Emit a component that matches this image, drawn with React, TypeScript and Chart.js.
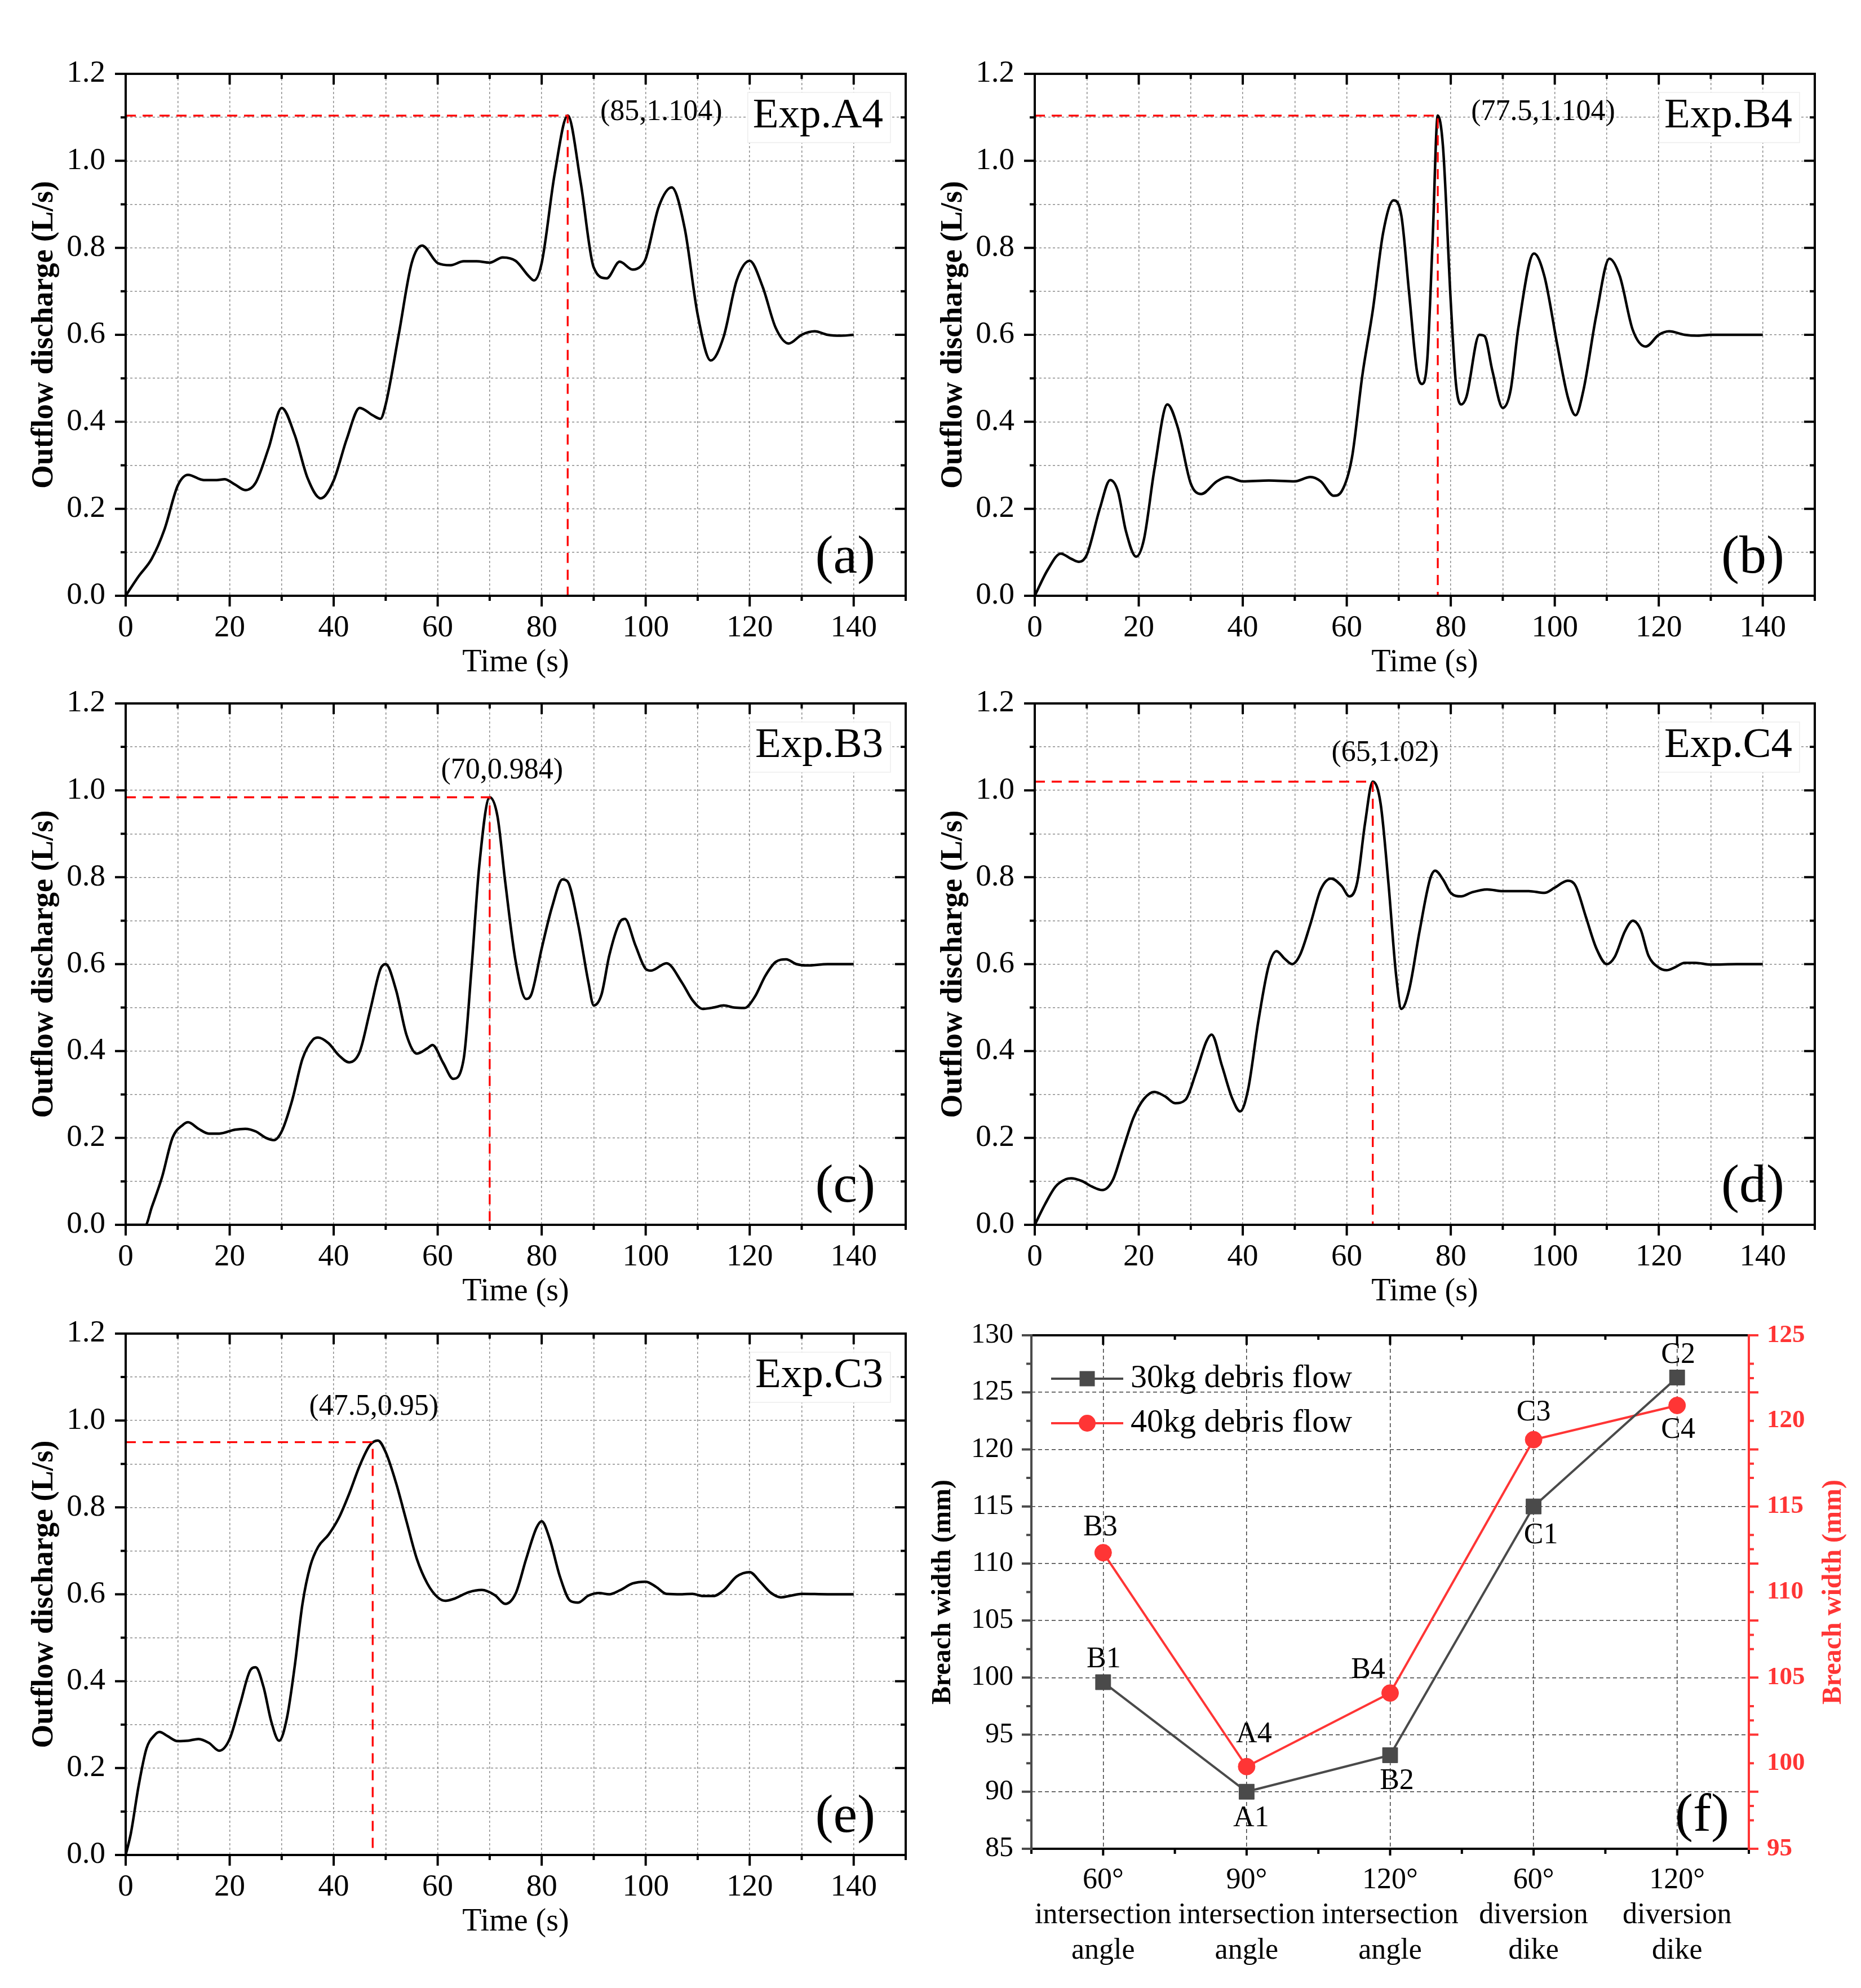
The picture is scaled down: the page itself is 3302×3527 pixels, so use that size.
import React, { useEffect, useRef } from 'react';
import { Chart, registerables } from 'chart.js';
Chart.register(...registerables);

const SERIF = '"Liberation Serif", "Times New Roman", Times, serif';

// ---------------- data ----------------
// (a) Exp.A4
const timeA4 = [0, 2.5, 5, 7.5, 10, 12, 15, 17.5, 19, 21, 23, 25, 27.5, 30, 32.5, 35, 37.5, 40, 42.5, 45, 47.5, 49, 50, 52.5, 55, 57, 60, 62.5, 65, 67.5, 70, 72.5, 75, 77.5, 78.5, 80, 82.5, 85, 87.5, 90, 92.5, 95, 97.5, 99, 100, 102.5, 105, 107.5, 110, 112.5, 115, 117.5, 120, 122.5, 125, 127.5, 130, 132.5, 135, 137.5, 140];
const flowA4 = [0, 0.045, 0.085, 0.154, 0.253, 0.278, 0.266, 0.266, 0.268, 0.256, 0.243, 0.26, 0.34, 0.432, 0.37, 0.27, 0.224, 0.265, 0.36, 0.432, 0.415, 0.407, 0.44, 0.6, 0.765, 0.805, 0.765, 0.76, 0.769, 0.769, 0.766, 0.778, 0.77, 0.735, 0.725, 0.765, 0.97, 1.104, 0.95, 0.755, 0.73, 0.768, 0.75, 0.757, 0.775, 0.894, 0.939, 0.845, 0.646, 0.541, 0.596, 0.725, 0.77, 0.71, 0.616, 0.58, 0.6, 0.608, 0.6, 0.598, 0.6];
// (b) Exp.B4
const timeB4 = [0, 2.5, 5, 7, 8.5, 10, 12.5, 14.5, 16, 17.5, 19.5, 21, 23, 25.5, 27.5, 30, 32, 35, 37, 40, 45, 50, 53, 55, 57.5, 59, 61, 63, 65, 67, 69, 70.5, 72, 73.5, 74.5, 75.5, 76.5, 77.5, 78.5, 80, 81, 82, 83, 85.5, 86.5, 88, 90, 91.5, 93, 96, 98, 100.5, 102.5, 104, 105.5, 108, 110.5, 112.5, 115, 117.5, 120, 122, 125, 127.5, 130, 140];
const flowB4 = [0, 0.06, 0.097, 0.085, 0.078, 0.094, 0.2, 0.266, 0.24, 0.15, 0.09, 0.13, 0.29, 0.44, 0.387, 0.258, 0.234, 0.263, 0.273, 0.263, 0.265, 0.263, 0.273, 0.263, 0.23, 0.24, 0.318, 0.507, 0.656, 0.835, 0.909, 0.874, 0.695, 0.516, 0.487, 0.546, 0.815, 1.104, 1.033, 0.675, 0.487, 0.44, 0.457, 0.6, 0.597, 0.517, 0.432, 0.472, 0.616, 0.787, 0.735, 0.576, 0.457, 0.415, 0.472, 0.646, 0.775, 0.735, 0.611, 0.573, 0.6, 0.608, 0.6, 0.598, 0.6, 0.6];
// (c) Exp.B3
const timeB3 = [0, 3.8, 5, 7, 9, 11, 12, 14, 16, 18, 21, 23, 25, 27, 28.5, 30, 32, 34, 36, 37, 39, 41, 43, 45, 47, 49, 50, 52, 54, 56, 58, 59, 61, 63, 65, 66.5, 68, 70, 71.5, 73, 75, 77, 78, 80, 82, 84, 85, 87, 89, 90, 91.5, 93, 95, 96, 98, 100, 101, 104, 107, 109, 111, 113, 115, 117, 119, 121, 123, 125, 127, 129, 131, 135, 140];
const flowB3 = [0, 0, 0.04, 0.11, 0.2, 0.23, 0.236, 0.221, 0.21, 0.21, 0.219, 0.221, 0.215, 0.2, 0.195, 0.215, 0.286, 0.382, 0.426, 0.431, 0.418, 0.39, 0.374, 0.398, 0.493, 0.589, 0.6, 0.54, 0.437, 0.394, 0.406, 0.414, 0.374, 0.336, 0.382, 0.589, 0.827, 0.984, 0.94, 0.788, 0.606, 0.52, 0.53, 0.636, 0.732, 0.795, 0.79, 0.692, 0.557, 0.505, 0.53, 0.62, 0.696, 0.704, 0.644, 0.589, 0.585, 0.602, 0.557, 0.517, 0.497, 0.5, 0.505, 0.5, 0.499, 0.525, 0.573, 0.605, 0.611, 0.6, 0.597, 0.6, 0.6];
// (d) Exp.C4
const timeC4 = [0, 2, 4, 6, 7, 9, 11, 13, 15, 17, 19, 21, 23, 25, 27, 29, 31, 33, 34, 36, 38, 39.5, 41, 43, 45, 46.5, 48, 49.5, 51, 53, 55, 57, 59, 60.5, 62, 63.5, 65, 66.5, 68, 69.5, 70.5, 72, 74, 76, 77, 78.5, 80, 82, 84, 87, 90, 95, 98, 100, 102.5, 104, 106, 108, 110, 111.5, 113.5, 115, 116.5, 118, 120, 121.5, 123, 125, 127, 130, 135, 140];
const flowC4 = [0, 0.048, 0.088, 0.105, 0.107, 0.101, 0.088, 0.08, 0.103, 0.175, 0.247, 0.29, 0.306, 0.296, 0.28, 0.288, 0.35, 0.422, 0.438, 0.366, 0.29, 0.261, 0.31, 0.469, 0.597, 0.63, 0.613, 0.6, 0.621, 0.692, 0.772, 0.797, 0.78, 0.756, 0.788, 0.923, 1.02, 0.97, 0.788, 0.573, 0.497, 0.541, 0.676, 0.795, 0.815, 0.795, 0.764, 0.756, 0.765, 0.772, 0.768, 0.768, 0.764, 0.776, 0.792, 0.78, 0.708, 0.636, 0.6, 0.616, 0.676, 0.7, 0.68, 0.62, 0.592, 0.586, 0.592, 0.603, 0.603, 0.599, 0.6, 0.6];
// (e) Exp.C3
const timeC3 = [0, 1, 2.5, 4, 5.5, 6.5, 8, 10, 12, 14, 16, 18, 20, 22, 24, 25, 26.5, 28, 29.5, 31, 32.5, 34, 35.5, 37, 39, 41, 43, 45, 47, 48.5, 50, 52, 54, 56, 58, 60, 61.5, 63, 66, 68.5, 71, 73, 75, 77, 79, 80, 81.5, 83.5, 85.5, 87, 89, 91, 93, 95, 97.5, 100, 102, 104, 107, 109, 111, 113, 115, 117.5, 120, 122, 124, 126, 128, 130, 135, 140];
const flowC3 = [0, 0.05, 0.16, 0.245, 0.275, 0.283, 0.274, 0.262, 0.263, 0.267, 0.258, 0.24, 0.267, 0.347, 0.426, 0.432, 0.387, 0.307, 0.263, 0.315, 0.434, 0.578, 0.665, 0.709, 0.737, 0.776, 0.832, 0.896, 0.944, 0.954, 0.927, 0.856, 0.768, 0.681, 0.625, 0.593, 0.585, 0.589, 0.605, 0.61, 0.598, 0.578, 0.602, 0.681, 0.753, 0.768, 0.729, 0.641, 0.585, 0.581, 0.597, 0.603, 0.6, 0.609, 0.625, 0.629, 0.617, 0.601, 0.6, 0.601, 0.596, 0.596, 0.609, 0.641, 0.651, 0.629, 0.604, 0.593, 0.597, 0.601, 0.6, 0.6];

// peak markers [time, discharge]
const peakA4 = [85, 1.104];
const peakB4 = [77.5, 1.104];
const peakB3 = [70, 0.984];
const peakC4 = [65, 1.02];
const peakC3 = [47.5, 0.95];
const peakTexts = ['(85,1.104)', '(77.5,1.104)', '(70,0.984)', '(65,1.02)', '(47.5,0.95)'];
const expNames = ['Exp.A4', 'Exp.B4', 'Exp.B3', 'Exp.C4', 'Exp.C3'];
const panelLetters = ['(a)', '(b)', '(c)', '(d)', '(e)'];
const timeAxisTitle = 'Time (s)';
const flowAxisTitle = 'Outflow discharge (L/s)';

// (f) breach widths
const breachCategories = [
  ['60°', 'intersection', 'angle'],
  ['90°', 'intersection', 'angle'],
  ['120°', 'intersection', 'angle'],
  ['60°', 'diversion', 'dike'],
  ['120°', 'diversion', 'dike'],
];
const breach30kg = [99.6, 90.0, 93.2, 115.0, 126.3];
const breach40kg = [112.3, 99.8, 104.1, 118.9, 120.9];
const labels30kg = ['B1', 'A1', 'B2', 'C1', 'C2'];
const labels40kg = ['B3', 'A4', 'B4', 'C3', 'C4'];
const seriesNames = ['30kg debris flow', '40kg debris flow'];
const breachTitle = 'Breach width (mm)';

const FLOW_SERIES = [
  { time: timeA4, flow: flowA4, peak: peakA4 },
  { time: timeB4, flow: flowB4, peak: peakB4 },
  { time: timeB3, flow: flowB3, peak: peakB3 },
  { time: timeC4, flow: flowC4, peak: peakC4 },
  { time: timeC3, flow: flowC3, peak: peakC3 },
];

// ---------------- layout / style ----------------
const LEFT_W = 223;
const PAD_TOP = 72;
const PAD_RIGHT = 40;
const BOTTOM_H = 160;
const FLOW_BOX = [
  { L: 223, T: 131, R: 1607, B: 1057, pdx: 166, pdy: -6 },
  { L: 1836, T: 131, R: 3220, B: 1057, pdx: 187, pdy: -6 },
  { L: 223, T: 1248, R: 1607, B: 2173, pdx: 22, pdy: -47 },
  { L: 1836, T: 1248, R: 3220, B: 2173, pdx: 22, pdy: -50 },
  { L: 223, T: 2366, R: 1607, B: 3291, pdx: 2, pdy: -62 },
];
const F_BOX = { L: 1830, T: 2369, R: 3103, B: 3280 };
const F_LEFT_W = 200;
const F_RIGHT_W = 200;
const F_BOTTOM_H = 215;
const LABEL_OFF_30 = [[1, -40], [8, 48], [12, 46], [13, 52], [2, -40]];
const LABEL_OFF_40 = [[-5, -44], [13, -57], [-39, -40], [0, -48], [2, 44]];
const RED = '#ff3535';
const GRAY = '#4a4a4a';

function flowDecor(i: number) {
  const box = FLOW_BOX[i];
  return {
    id: 'flowDecor' + i,
    beforeDatasetsDraw(chart: any) {
      const { ctx, chartArea: a } = chart;
      ctx.save();
      ctx.font = `75px ${SERIF}`;
      const text = expNames[i];
      const tw = ctx.measureText(text).width;
      const right = a.right - 40;
      const base = a.top + 95;
      const bx0 = right - tw - 9;
      const bx1 = a.right - 27;
      const by0 = a.top + 33;
      const by1 = a.top + 122;
      ctx.fillStyle = '#fff';
      ctx.fillRect(bx0, by0, bx1 - bx0, by1 - by0);
      ctx.strokeStyle = '#ededed';
      ctx.lineWidth = 1.5;
      ctx.strokeRect(bx0, by0, bx1 - bx0, by1 - by0);
      ctx.fillStyle = '#000';
      ctx.textAlign = 'right';
      ctx.textBaseline = 'alphabetic';
      ctx.fillText(text, right, base);
      ctx.restore();
    },
    afterDraw(chart: any) {
      const { ctx, chartArea: a, scales } = chart;
      const x = scales.x;
      const y = scales.y;
      ctx.save();
      ctx.strokeStyle = '#000';
      ctx.lineWidth = 4;
      ctx.lineCap = 'butt';
      ctx.beginPath();
      for (let v = 0; v <= 150; v += 10) {
        const px = x.getPixelForValue(v);
        const len = v % 20 === 0 ? 19 : 9;
        ctx.moveTo(px, a.bottom);
        ctx.lineTo(px, a.bottom + len);
        ctx.moveTo(px, a.top);
        ctx.lineTo(px, a.top + len);
      }
      for (let k = 0; k <= 12; k++) {
        const py = y.getPixelForValue(k / 10);
        const len = k % 2 === 0 ? 19 : 9;
        ctx.moveTo(a.left, py);
        ctx.lineTo(a.left - len, py);
        ctx.moveTo(a.right, py);
        ctx.lineTo(a.right - len, py);
      }
      ctx.stroke();
      ctx.lineJoin = 'miter';
      ctx.strokeRect(a.left, a.top, a.right - a.left, a.bottom - a.top);

      const pk = FLOW_SERIES[i].peak;
      ctx.fillStyle = '#000';
      ctx.font = `52px ${SERIF}`;
      ctx.textAlign = 'center';
      ctx.textBaseline = 'middle';
      ctx.fillText(peakTexts[i], x.getPixelForValue(pk[0]) + box.pdx, y.getPixelForValue(pk[1]) + box.pdy);

      ctx.font = `96px ${SERIF}`;
      ctx.textAlign = 'right';
      ctx.fillText(panelLetters[i], a.right - 54, a.bottom - 66);
      ctx.restore();
    },
  };
}

function FlowPanel({ i }: { i: number }) {
  const ref = useRef<HTMLCanvasElement>(null);
  const box = FLOW_BOX[i];
  const w = LEFT_W + (box.R - box.L) + PAD_RIGHT;
  const h = PAD_TOP + (box.B - box.T) + BOTTOM_H;
  useEffect(() => {
    const s = FLOW_SERIES[i];
    const chart = new Chart(ref.current as HTMLCanvasElement, {
      type: 'line',
      data: {
        datasets: [
          {
            data: [
              { x: 0, y: s.peak[1] },
              { x: s.peak[0], y: s.peak[1] },
              { x: s.peak[0], y: 0 },
            ],
            borderColor: '#ff0000',
            borderWidth: 3.3,
            borderDash: [18, 12],
            pointRadius: 0,
            tension: 0,
            fill: false,
          },
          {
            data: s.time.map((t, k) => ({ x: t, y: s.flow[k] })),
            borderColor: '#000',
            borderWidth: 4.5,
            pointRadius: 0,
            cubicInterpolationMode: 'monotone',
            fill: false,
          },
        ],
      },
      options: {
        animation: false,
        responsive: false,
        devicePixelRatio: 1,
        events: [],
        layout: { padding: { left: 0, top: PAD_TOP, right: PAD_RIGHT, bottom: 0 } },
        plugins: { legend: { display: false }, tooltip: { enabled: false } },
        scales: {
          x: {
            type: 'linear',
            min: 0,
            max: 150,
            afterFit: (sc: any) => { sc.height = BOTTOM_H; },
            ticks: {
              stepSize: 10,
              autoSkip: false,
              maxRotation: 0,
              padding: 25,
              color: '#000',
              font: { family: SERIF, size: 55 },
              callback: (v: any) => (Math.round(Number(v)) % 20 === 0 ? String(Math.round(Number(v))) : ''),
            },
            grid: { color: '#8c8c8c', lineWidth: 1.5, drawTicks: false },
            border: { display: false, dash: [4, 4] },
            title: {
              display: true,
              text: timeAxisTitle,
              color: '#000',
              font: { family: SERIF, size: 56 },
              padding: { top: 0, bottom: 7 },
            },
          },
          y: {
            type: 'linear',
            min: 0,
            max: 1.2,
            afterFit: (sc: any) => { sc.width = LEFT_W; },
            ticks: {
              stepSize: 0.1,
              autoSkip: false,
              padding: 36,
              color: '#000',
              font: { family: SERIF, size: 55 },
              callback: (v: any) => {
                const r = Math.round(Number(v) * 10);
                return r % 2 === 0 ? (r / 10).toFixed(1) : '';
              },
            },
            grid: { color: '#8c8c8c', lineWidth: 1.5, drawTicks: false },
            border: { display: false, dash: [4, 4] },
            title: {
              display: true,
              text: flowAxisTitle,
              color: '#000',
              font: { family: SERIF, size: 54, weight: 'bold' },
              padding: { top: 47, bottom: 0 },
            },
          },
        },
      },
      plugins: [flowDecor(i)],
    } as any);
    return () => chart.destroy();
  }, [i]);
  return (
    <canvas
      ref={ref}
      width={w}
      height={h}
      style={{ position: 'absolute', left: box.L - LEFT_W, top: box.T - PAD_TOP, width: w, height: h }}
    />
  );
}

const breachDecor = {
  id: 'breachDecor',
  afterDraw(chart: any) {
    const { ctx, chartArea: a, scales } = chart;
    const x = scales.x;
    const y = scales.y;
    const y1 = scales.y1;
    ctx.save();
    ctx.lineWidth = 4;
    ctx.lineCap = 'butt';
    // left ticks (outward)
    ctx.strokeStyle = GRAY;
    ctx.beginPath();
    for (let v = 85; v <= 130; v += 2.5) {
      const py = y.getPixelForValue(v);
      const len = v % 5 === 0 ? 17 : 9;
      ctx.moveTo(a.left, py);
      ctx.lineTo(a.left - len, py);
    }
    ctx.stroke();
    // right ticks (outward, red)
    ctx.strokeStyle = RED;
    ctx.beginPath();
    for (let v = 85; v <= 130; v += 2.5) {
      const py = y.getPixelForValue(v);
      const len = v % 5 === 0 ? 17 : 9;
      ctx.moveTo(a.right, py);
      ctx.lineTo(a.right + len, py);
    }
    for (let v = 95; v <= 125; v += 2.5) {
      const py = y1.getPixelForValue(v);
      ctx.moveTo(a.right, py);
      ctx.lineTo(a.right + 9, py);
    }
    ctx.stroke();
    // top / bottom ticks
    ctx.strokeStyle = '#000';
    ctx.beginPath();
    const n = breachCategories.length;
    const xs: number[] = [];
    for (let k = 0; k < n; k++) xs.push(x.getPixelForValue(k));
    const mids: number[] = [a.left, a.right];
    for (let k = 0; k < n - 1; k++) mids.push((xs[k] + xs[k + 1]) / 2);
    xs.forEach((px) => {
      ctx.moveTo(px, a.top); ctx.lineTo(px, a.top + 17);
      ctx.moveTo(px, a.bottom); ctx.lineTo(px, a.bottom + 12);
    });
    mids.forEach((px) => {
      ctx.moveTo(px, a.top); ctx.lineTo(px, a.top + 8);
      ctx.moveTo(px, a.bottom); ctx.lineTo(px, a.bottom + 9);
    });
    ctx.stroke();
    // frame
    ctx.beginPath();
    ctx.moveTo(a.left - 2, a.top); ctx.lineTo(a.right + 2, a.top);
    ctx.moveTo(a.left - 2, a.bottom); ctx.lineTo(a.right + 2, a.bottom);
    ctx.stroke();
    ctx.strokeStyle = GRAY;
    ctx.beginPath();
    ctx.moveTo(a.left, a.top - 2); ctx.lineTo(a.left, a.bottom + 2);
    ctx.stroke();
    ctx.strokeStyle = RED;
    ctx.beginPath();
    ctx.moveTo(a.right, a.top - 2); ctx.lineTo(a.right, a.bottom + 2);
    ctx.stroke();

    // legend
    const rows = [a.top + 77, a.top + 156];
    const colors = [GRAY, RED];
    rows.forEach((ry, k) => {
      ctx.strokeStyle = colors[k];
      ctx.fillStyle = colors[k];
      ctx.lineWidth = 4;
      ctx.beginPath();
      ctx.moveTo(a.left + 35, ry);
      ctx.lineTo(a.left + 163, ry);
      ctx.stroke();
      if (k === 0) {
        ctx.fillRect(a.left + 99 - 13.5, ry - 13.5, 27, 27);
      } else {
        ctx.beginPath();
        ctx.arc(a.left + 99, ry, 15, 0, Math.PI * 2);
        ctx.fill();
      }
      ctx.fillStyle = '#000';
      ctx.font = `58px ${SERIF}`;
      ctx.textAlign = 'left';
      ctx.textBaseline = 'middle';
      ctx.fillText(seriesNames[k], a.left + 176, ry);
    });

    // point labels
    ctx.fillStyle = '#000';
    ctx.font = `52px ${SERIF}`;
    ctx.textAlign = 'center';
    ctx.textBaseline = 'middle';
    const m0 = chart.getDatasetMeta(0).data;
    const m1 = chart.getDatasetMeta(1).data;
    labels30kg.forEach((t, k) => {
      ctx.fillText(t, m0[k].x + LABEL_OFF_30[k][0], m0[k].y + LABEL_OFF_30[k][1]);
    });
    labels40kg.forEach((t, k) => {
      ctx.fillText(t, m1[k].x + LABEL_OFF_40[k][0], m1[k].y + LABEL_OFF_40[k][1]);
    });

    // right axis title
    ctx.save();
    ctx.translate(a.right + 151, (a.top + a.bottom) / 2);
    ctx.rotate(-Math.PI / 2);
    ctx.fillStyle = RED;
    ctx.font = `bold 48px ${SERIF}`;
    ctx.textAlign = 'center';
    ctx.textBaseline = 'middle';
    ctx.fillText(breachTitle, 0, 0);
    ctx.restore();

    // panel letter
    ctx.fillStyle = '#000';
    ctx.font = `96px ${SERIF}`;
    ctx.textAlign = 'right';
    ctx.textBaseline = 'middle';
    ctx.fillText('(f)', a.right - 35, a.bottom - 57);
    ctx.restore();
  },
};

function BreachPanel() {
  const ref = useRef<HTMLCanvasElement>(null);
  const w = F_LEFT_W + (F_BOX.R - F_BOX.L) + F_RIGHT_W;
  const h = PAD_TOP + (F_BOX.B - F_BOX.T) + F_BOTTOM_H;
  useEffect(() => {
    const chart = new Chart(ref.current as HTMLCanvasElement, {
      type: 'line',
      data: {
        labels: breachCategories,
        datasets: [
          {
            label: seriesNames[0],
            data: breach30kg,
            yAxisID: 'y',
            borderColor: GRAY,
            backgroundColor: GRAY,
            borderWidth: 4,
            pointStyle: 'rect',
            pointRadius: 19,
            pointBorderWidth: 1,
            pointBorderColor: GRAY,
            pointBackgroundColor: GRAY,
            tension: 0,
            fill: false,
          },
          {
            label: seriesNames[1],
            data: breach40kg,
            yAxisID: 'y1',
            borderColor: RED,
            backgroundColor: RED,
            borderWidth: 4,
            pointStyle: 'circle',
            pointRadius: 15,
            pointBorderWidth: 1,
            pointBorderColor: RED,
            pointBackgroundColor: RED,
            tension: 0,
            fill: false,
          },
        ],
      },
      options: {
        animation: false,
        responsive: false,
        devicePixelRatio: 1,
        events: [],
        layout: { padding: { left: 0, top: PAD_TOP, right: 0, bottom: 0 } },
        plugins: { legend: { display: false }, tooltip: { enabled: false } },
        scales: {
          x: {
            type: 'category',
            offset: true,
            afterFit: (sc: any) => { sc.height = F_BOTTOM_H; },
            ticks: {
              autoSkip: false,
              maxRotation: 0,
              padding: 25,
              color: '#000',
              font: { family: SERIF, size: 52 },
            },
            grid: { color: '#3c3c3c', lineWidth: 1.5, drawTicks: false },
            border: { display: false, dash: [7, 5] },
          },
          y: {
            type: 'linear',
            position: 'left',
            min: 85,
            max: 130,
            afterFit: (sc: any) => { sc.width = F_LEFT_W; },
            ticks: {
              stepSize: 5,
              autoSkip: false,
              padding: 32,
              color: '#000',
              font: { family: SERIF, size: 50 },
            },
            grid: { color: '#3c3c3c', lineWidth: 1.5, drawTicks: false },
            border: { display: false, dash: [7, 5] },
            title: {
              display: true,
              text: breachTitle,
              color: '#000',
              font: { family: SERIF, size: 48, weight: 'bold' },
              padding: { top: 15, bottom: 0 },
            },
          },
          y1: {
            type: 'linear',
            position: 'right',
            min: 95,
            max: 125,
            afterFit: (sc: any) => { sc.width = F_RIGHT_W; },
            ticks: {
              stepSize: 5,
              autoSkip: false,
              padding: 32,
              color: RED,
              font: { family: SERIF, size: 45, weight: 'bold' },
            },
            grid: { drawOnChartArea: false, drawTicks: false },
            border: { display: false },
          },
        },
      },
      plugins: [breachDecor],
    } as any);
    return () => chart.destroy();
  }, []);
  return (
    <canvas
      ref={ref}
      width={w}
      height={h}
      style={{ position: 'absolute', left: F_BOX.L - F_LEFT_W, top: F_BOX.T - PAD_TOP, width: w, height: h }}
    />
  );
}

export default function App() {
  useEffect(() => {
    document.body.style.margin = '0';
    document.body.style.background = '#fff';
  }, []);
  return (
    <div style={{ position: 'relative', width: 3302, height: 3527, background: '#fff', overflow: 'hidden' }}>
      {FLOW_BOX.map((_, i) => (
        <FlowPanel key={i} i={i} />
      ))}
      <BreachPanel />
    </div>
  );
}
